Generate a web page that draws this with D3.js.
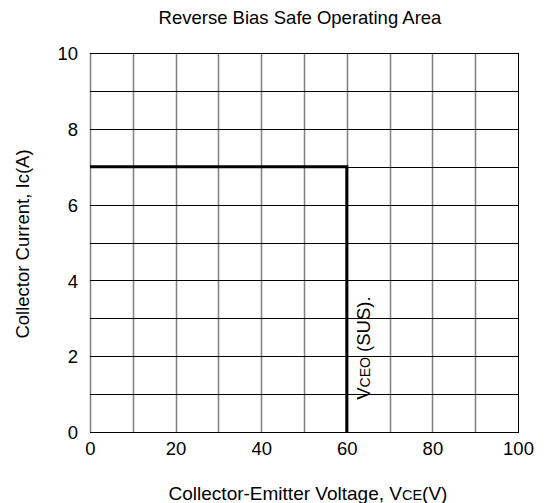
<!DOCTYPE html>
<html>
<head>
<meta charset="utf-8">
<script src="https://cdn.jsdelivr.net/npm/d3@7"></script>
<style>
  body { margin: 0; background: #fff; }
  text { font-family: "Liberation Sans", Arial, sans-serif; fill: #000; }
</style>
</head>
<body>
<script>
var width = 549,
  height = 503;

var margin = {top: 53, right: 31, bottom: 71, left: 90};

// data
var voltageTicks = [0, 20, 40, 60, 80, 100];
var currentTicks = [0, 2, 4, 6, 8, 10];
var voltageGrid = [0, 10, 20, 30, 40, 50, 60, 70, 80, 90];
var currentGrid = [0, 1, 2, 3, 4, 5, 6, 7, 8, 9, 10];
var soaVoltage = [0, 60, 60];
var soaCurrent = [7, 7, 0];

var x = d3.scaleLinear()
  .domain([0, 100])
  .range([margin.left, width - margin.right]);

var y = d3.scaleLinear()
  .domain([0, 10])
  .range([height - margin.bottom, margin.top]);

function snap(v) { return Math.round(v) + 0.5; }

var svg = d3.select("body").append("svg")
  .attr("width", width)
  .attr("height", height);

// vertical grid (gray)
svg.append("g").selectAll("line")
  .data(voltageGrid)
  .enter().append("line")
    .attr("x1", function(d) { return snap(x(d)); })
    .attr("x2", function(d) { return snap(x(d)); })
    .attr("y1", y(10))
    .attr("y2", y(0))
    .attr("stroke", "#808080")
    .attr("stroke-width", 1.5);

// horizontal grid (black)
svg.append("g").selectAll("line")
  .data(currentGrid)
  .enter().append("line")
    .attr("x1", x(0))
    .attr("x2", x(100) + 1)
    .attr("y1", function(d) { return snap(y(d)); })
    .attr("y2", function(d) { return snap(y(d)); })
    .attr("stroke", "#000")
    .attr("stroke-width", 1);

// right border
svg.append("line")
  .attr("x1", snap(x(100)))
  .attr("x2", snap(x(100)))
  .attr("y1", y(10))
  .attr("y2", y(0))
  .attr("stroke", "#000");

// axes (labels only)
var xAxis = svg.append("g")
  .attr("transform", "translate(0," + (y(0) + 4) + ")")
  .call(d3.axisBottom(x).tickValues(voltageTicks).tickSize(0).tickPadding(0));

var yAxis = svg.append("g")
  .attr("transform", "translate(" + (x(0) - 12) + ",0)")
  .call(d3.axisLeft(y).tickValues(currentTicks).tickSize(0).tickPadding(0));

svg.selectAll(".domain").remove();
svg.selectAll(".tick text")
  .attr("font-family", "Liberation Sans, Arial, sans-serif")
  .attr("font-size", "18.5px")
  .attr("fill", "#000");
yAxis.selectAll(".tick text").attr("dy", "0.36em");
xAxis.selectAll(".tick text").attr("dy", "1em");

// safe operating area boundary
var line = d3.line()
  .x(function(d) { return x(d[0]); })
  .y(function(d) { return y(d[1]); });

svg.append("path")
  .datum(d3.zip(soaVoltage, soaCurrent))
  .attr("d", line)
  .attr("fill", "none")
  .attr("stroke", "#000")
  .attr("stroke-width", 3);

// VCEO(SUS) label
var vLabel = svg.append("text")
  .attr("transform", "translate(" + (x(60) + 23) + "," + y(0.85) + ") rotate(-90)")
  .attr("font-size", "18.5px");
vLabel.append("tspan").text("V");
vLabel.append("tspan").attr("font-size", "14px").text("CEO");
vLabel.append("tspan").text(" (SUS).");

// title
svg.append("text")
  .attr("x", 300)
  .attr("y", 24)
  .attr("text-anchor", "middle")
  .attr("font-size", "18.5px")
  .text("Reverse Bias Safe Operating Area");

// x label
var xLabel = svg.append("text")
  .attr("x", 308)
  .attr("y", 500)
  .attr("text-anchor", "middle")
  .attr("font-size", "19px");
xLabel.append("tspan").text("Collector-Emitter Voltage, V");
xLabel.append("tspan").attr("font-size", "14.5px").text("CE");
xLabel.append("tspan").text("(V)");

// y label
svg.append("text")
  .attr("transform", "translate(29,244) rotate(-90)")
  .attr("text-anchor", "middle")
  .attr("font-size", "18.5px")
  .text("Collector Current, Ic(A)");
</script>
</body>
</html>
